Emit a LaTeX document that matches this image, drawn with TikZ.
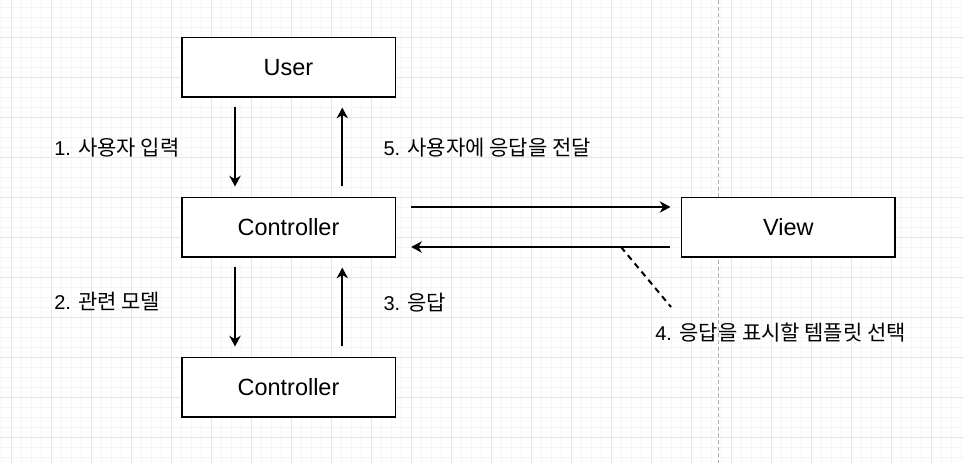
\documentclass[tikz,border=0pt]{standalone}
\usepackage{fontspec}
\setmainfont{Liberation Sans}
\newfontfamily\kr{Noto Sans CJK KR}[Scale=1.05]
\usetikzlibrary{positioning}
\usetikzlibrary{arrows.meta}
\usetikzlibrary{calc}
\definecolor{gridmajor}{HTML}{E6E6E6}
\definecolor{gridminor}{HTML}{F5F5F5}
\definecolor{pageline}{HTML}{B0B0B0}

\begin{document}
\begin{tikzpicture}[x=0.75pt, y=-0.75pt,
    box/.style={shape=rectangle, draw=black, fill=white, line width=1pt,
        minimum width=160pt, minimum height=44.5pt, font=\fontsize{17.6}{21}\selectfont},
    arr/.style={line width=1.5pt, -{Stealth[length=8pt, width=8.5pt, inset=2.5pt]}},
    lbl/.style={anchor=west, inner sep=0pt, font=\fontsize{15}{18}\selectfont}]
    \useasboundingbox (0,0) rectangle (964,463);
    % background grid
    \begin{scope}
        \clip (0,0) rectangle (964,463);
        \begin{scope}[shift={(11.7,37.3)}]
            \draw[gridminor, line width=0.6pt, step=7.5pt] (-40,-80) grid (1000,480);
            \draw[gridmajor, line width=0.75pt, step=30pt] (-40,-80) grid (1000,480);
        \end{scope}
        \draw[pageline, line width=0.75pt, dash pattern=on 3pt off 2pt] (718.5,0) -- (718.5,463);
    \end{scope}
    
    \node[box] (user) at (288.5,67.3) {User};
    \node[box] (ctrl) at (288.5,227.3) {Controller};
    \node[box] (model) at (288.5,387.3) {Controller};
    \node[box] (view) at (788.3,227.3) {View};
    
    \node[lbl] (lbl1) at (54,148) {1. {\kr 사용자 입력}};
    \node[lbl] (lbl2) at (54,302) {2. {\kr 관련 모델}};
    \node[lbl] (lbl3) at (383.3,303) {3. {\kr 응답}};
    \node[lbl] (lbl4) at (655,333) {4. {\kr 응답을 표시할 템플릿 선택}};
    \node[lbl] (lbl5) at (383.3,148) {5. {\kr 사용자에 응답을 전달}};
    
    \path[arr] ($(user.south)+(-53.5,9.5)$) edge ($(ctrl.north)+(-53.5,-10.5)$);
    \path[arr] ($(ctrl.north)+(53.8,-10.5)$) edge ($(user.south)+(53.8,10)$);
    \path[arr] ($(ctrl.south)+(-53.5,9.5)$) edge ($(model.north)+(-53.5,-10.5)$);
    \path[arr] ($(model.north)+(53.8,-10.5)$) edge ($(ctrl.south)+(53.8,10)$);
    
    \path[arr] ($(ctrl.east)+(15.3,-20.3)$) edge ($(view.west)+(-10.5,-20.3)$);
    \path[arr] ($(view.west)+(-10.5,19.7)$) edge ($(ctrl.east)+(15.3,19.7)$);
    
    \coordinate (pick) at (621,247);
    \coordinate (pickend) at (671,307);
    \draw[line width=1.5pt, dash pattern=on 4.5pt off 3.5pt] (pick) -- (pickend);
\end{tikzpicture}
\end{document}
